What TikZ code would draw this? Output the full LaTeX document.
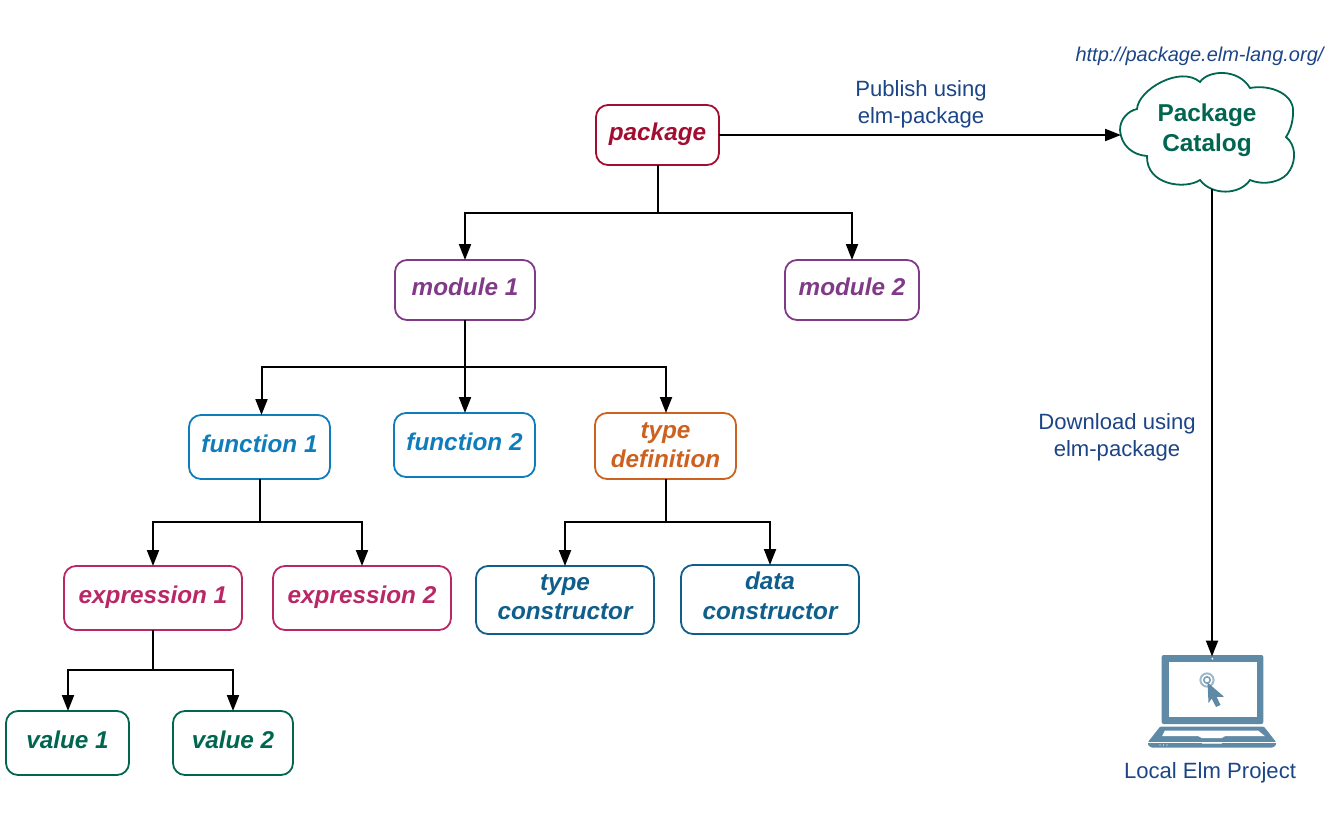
\documentclass[tikz,border=0pt]{standalone}
\usepackage{fontspec}
\setmainfont{Liberation Sans}
\usetikzlibrary{arrows.meta}
\definecolor{pkgcol}{HTML}{A20D30}
\definecolor{modcol}{HTML}{803A87}
\definecolor{funcol}{HTML}{0F7DBB}
\definecolor{typcol}{HTML}{CC6120}
\definecolor{expcol}{HTML}{B92766}
\definecolor{concol}{HTML}{0F5E8C}
\definecolor{valcol}{HTML}{006650}
\definecolor{labcol}{HTML}{1C4587}
\definecolor{lapcol}{HTML}{5F8AA6}
\tikzset{
  elmbox/.style={draw=#1,text=#1,line width=1.8bp,rounded corners=12bp,inner sep=0pt,outer sep=0pt,
    align=center,font=\fontsize{24.3bp}{29.5bp}\selectfont\bfseries\itshape},
  elmlabel/.style={text=labcol,inner sep=0pt,align=center,font=\fontsize{22.1bp}{27bp}\selectfont},
  conn/.style={line width=2bp,rounded corners=0pt},
}
\begin{document}
\begin{tikzpicture}[x=1bp,y=-1bp,>={Triangle[length=16bp,width=12bp]}]
  \useasboundingbox (0,0) rectangle (1331,827);
  % Node: package
  \node (package) [elmbox=pkgcol,minimum width=123bp,minimum height=60bp,text depth=6bp] at (657.5,135) {package};
  % Node: module 1
  \node (module1) [elmbox=modcol,minimum width=140bp,minimum height=60bp,text depth=6bp] at (465,290) {module 1};
  % Node: module 2
  \node (module2) [elmbox=modcol,minimum width=134bp,minimum height=60bp,text depth=6bp] at (852,290) {module 2};
  % Node: function 1
  \node (function1) [elmbox=funcol,minimum width=141bp,minimum height=64bp,text depth=6bp] at (259.5,447) {function 1};
  % Node: function 2
  \node (function2) [elmbox=funcol,minimum width=141bp,minimum height=64bp,text depth=6bp] at (464.5,445) {function 2};
  % Node: type definition
  \node (typedef) [elmbox=typcol,minimum width=141bp,minimum height=66bp] at (665.5,446) {type\\definition\\[-27.5bp]\mbox{}};
  % Node: expression 1
  \node (expr1) [elmbox=expcol,minimum width=178bp,minimum height=64bp,text depth=6bp] at (153,598) {expression 1};
  % Node: expression 2
  \node (expr2) [elmbox=expcol,minimum width=178bp,minimum height=64bp,text depth=6bp] at (362,598) {expression 2};
  % Node: type constructor
  \node (typecon) [elmbox=concol,minimum width=178bp,minimum height=68bp] at (565,600) {type\\constructor\\[-23.5bp]\mbox{}};
  % Node: data constructor
  \node (datacon) [elmbox=concol,minimum width=178bp,minimum height=69bp] at (770,599.5) {data\\constructor\\[-21.5bp]\mbox{}};
  % Node: value 1
  \node (value1) [elmbox=valcol,minimum width=123bp,minimum height=64bp,text depth=6bp] at (67.5,743) {value 1};
  % Node: value 2
  \node (value2) [elmbox=valcol,minimum width=120bp,minimum height=64bp,text depth=6bp] at (233,743) {value 2};
  % Node: Package Catalog
  \draw [draw=valcol,line width=1.8bp] (1120,130)
    .. controls (1120,119) and (1128,111) .. (1137,109)
    .. controls (1138,90) and (1180,65) .. (1200,82)
    .. controls (1208,70) and (1238,68) .. (1250,88)
    .. controls (1272,84) and (1295,95) .. (1293,113)
    .. controls (1293,122) and (1290,131) .. (1286,137)
    .. controls (1296,145) and (1296,160) .. (1290,170)
    .. controls (1284,182) and (1264,186) .. (1250,180)
    .. controls (1240,195) and (1212,196) .. (1200,180)
    .. controls (1185,190) and (1146,185) .. (1147,156)
    .. controls (1132,155) and (1121,145) .. (1120,130) -- cycle;
  \node (catalog) [minimum width=172bp,minimum height=118bp,inner sep=0pt,outer sep=0pt,align=center,text=valcol,
    font=\fontsize{24.4bp}{29.5bp}\selectfont\bfseries] at (1207,130) {Package\\Catalog};
  % Node: Local Elm Project
  \node (laptop) [minimum width=128bp,minimum height=93bp,inner sep=0pt,outer sep=0pt] at (1212,703) {};
  \begin{scope}
    \fill [lapcol,rounded corners=2bp] (1161.7,655) rectangle (1263.3,724);
    \fill [white] (1168.7,662.3) rectangle (1256.7,717.3);
    \fill [white] (1212.3,658.7) circle (1bp);
    \fill [lapcol,rounded corners=1bp] (1160,726.7) -- (1264,726.7) -- (1276,742) -- (1276,745) -- (1273,747.5) -- (1151,747.5) -- (1148,745) -- (1148,742) -- cycle;
    \fill [white] (1165,730.5) -- (1258,730.5) -- (1265,736.2) -- (1225,736.2) -- (1221.7,738) -- (1201.7,738) -- (1198.3,736.2) -- (1162,736.2) -- cycle;
    \draw [white,line width=.5bp] (1148,742.5) -- (1276,742.5);
    \draw [white!70!lapcol,line width=.8bp] (1202,743.5) -- (1222,743.5);
    \foreach \dotx in {1160,1163.5,1167}
      \fill [white] (\dotx,745) circle (.6bp);
    \draw [white!40!lapcol,line width=2bp] (1207,680) circle (6.6bp);
    \draw [white!20!lapcol,line width=1.6bp] (1207,680) circle (3.2bp);
    \fill [lapcol] (1207.5,682.5) -- (1224,696.7) -- (1216.7,697) -- (1220.5,705) -- (1216,707) -- (1211.7,698.5) -- (1208.5,703) -- cycle;
  \end{scope}
  \node (laptoplabel) [elmlabel] at (1210,773) {Local Elm Project};
  % Node: labels
  \node (catalogurl) [elmlabel,font=\fontsize{20bp}{24bp}\selectfont\itshape] at (1199.5,56) {http://package.elm-lang.org/};
  \node (publish) [elmlabel] at (921,104) {Publish using\\elm-package};
  \node (download) [elmlabel] at (1117,437) {Download using\\elm-package};
  % Edge: package -> module 1, module 2
  \draw [conn,->] (package.south) -- ++(0,48) -| (module1.north);
  \draw [conn,->] (package.south) -- ++(0,48) -| (module2.north);
  % Edge: module 1 -> function 1, function 2, type definition
  \draw [conn,->] (module1.south) -- ++(0,47) -| ([xshift=2bp]function1.north);
  \draw [conn,->] (module1.south) -- (function2.north -| module1.south);
  \draw [conn,->] (module1.south) -- ++(0,47) -| ([xshift=.5bp]typedef.north);
  % Edge: function 1 -> expression 1, expression 2
  \draw [conn,->] ([xshift=.5bp]function1.south) -- ++(0,43) -| (expr1.north);
  \draw [conn,->] ([xshift=.5bp]function1.south) -- ++(0,43) -| (expr2.north);
  % Edge: type definition -> type constructor, data constructor
  \draw [conn,->] ([xshift=.5bp]typedef.south) -- ++(0,43) -| (typecon.north);
  \draw [conn,->] ([xshift=.5bp]typedef.south) -- ++(0,43) -| (datacon.north);
  % Edge: expression 1 -> value 1, value 2
  \draw [conn,->] (expr1.south) -- ++(0,40) -| ([xshift=.5bp]value1.north);
  \draw [conn,->] (expr1.south) -- ++(0,40) -| (value2.north);
  % Edge: package -> Package Catalog
  \draw [conn,->] (package.east) -- (package.east -| catalog.west);
  % Edge: Package Catalog -> Local Elm Project
  \draw [conn,->] (catalog.south -| laptop.north) -- (laptop.north);
\end{tikzpicture}
\end{document}
